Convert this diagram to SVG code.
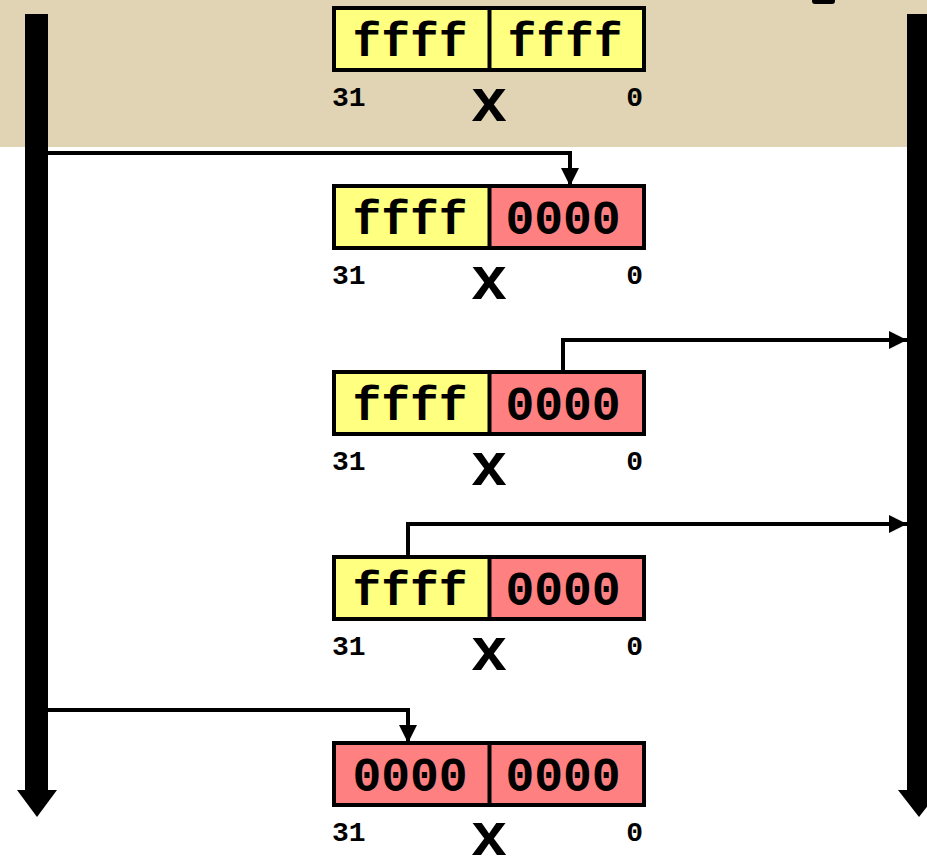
<svg xmlns="http://www.w3.org/2000/svg" width="927" height="856" viewBox="0 0 927 856">
  <style>
    .hi { fill: #ffff80; }
    .lo { fill: #ff8080; }
    .frame { fill: none; stroke: #000; stroke-width: 4; }
    .val { font-family: "Liberation Mono", "Courier New", monospace; font-weight: bold; font-size: 48px; text-anchor: middle; fill: #000; }
    .bit { font-family: "Liberation Mono", "Courier New", monospace; font-weight: bold; font-size: 28px; fill: #000; }
    .var { font-family: "Liberation Mono", "Courier New", monospace; font-weight: bold; font-size: 62px; text-anchor: middle; fill: #000; }
    .wire { fill: none; stroke: #000; stroke-width: 4; }
  </style>
  <defs>
    <marker id="tip" viewBox="0 0 10 10" refX="10" refY="5" markerWidth="4.5" markerHeight="4.5" markerUnits="strokeWidth" orient="auto">
      <path d="M0,0 L10,5 L0,10 Z" fill="#000"/>
    </marker>
  </defs>

  <rect width="927" height="856" fill="#ffffff"/>
  <rect x="0" y="0" width="927" height="147" fill="#e1d4b4"/>
  <path d="M812,0 L835,0 L835,1 Q835,4 832,4 L815,4 Q812,4 812,1 Z" fill="#000"/>

  <!-- time axes -->
  <g id="axis-left">
    <rect x="25" y="14" width="23" height="777" fill="#000"/>
    <polygon points="17,790 57,790 37,817" fill="#000"/>
  </g>
  <g id="axis-right">
    <rect x="907" y="14" width="24" height="777" fill="#000"/>
    <polygon points="898,790 940,790 919,817" fill="#000"/>
  </g>

  <!-- register states of x -->
  <g id="state-1">
    <rect class="hi" x="334" y="8" width="155.5" height="62"/>
    <rect class="hi" x="489.5" y="8" width="154.5" height="62"/>
    <rect class="frame" x="334" y="8" width="310" height="62"/>
    <line x1="489.5" y1="8" x2="489.5" y2="70" stroke="#000" stroke-width="4"/>
    <text class="val" x="410" y="56">ffff</text>
    <text class="val" x="565" y="56">ffff</text>
    <text class="bit" x="332" y="106">31</text>
    <text class="bit" x="643" y="106" text-anchor="end">0</text>
    <text class="var" x="489" y="121">x</text>
  </g>
  <g id="state-2">
    <rect class="hi" x="334" y="186" width="155.5" height="62"/>
    <rect class="lo" x="489.5" y="186" width="154.5" height="62"/>
    <rect class="frame" x="334" y="186" width="310" height="62"/>
    <line x1="489.5" y1="186" x2="489.5" y2="248" stroke="#000" stroke-width="4"/>
    <text class="val" x="410" y="234">ffff</text>
    <text class="val" x="563" y="234">0000</text>
    <text class="bit" x="332" y="284">31</text>
    <text class="bit" x="643" y="284" text-anchor="end">0</text>
    <text class="var" x="489" y="299">x</text>
  </g>
  <g id="state-3">
    <rect class="hi" x="334" y="372" width="155.5" height="62"/>
    <rect class="lo" x="489.5" y="372" width="154.5" height="62"/>
    <rect class="frame" x="334" y="372" width="310" height="62"/>
    <line x1="489.5" y1="372" x2="489.5" y2="434" stroke="#000" stroke-width="4"/>
    <text class="val" x="410" y="420">ffff</text>
    <text class="val" x="563" y="420">0000</text>
    <text class="bit" x="332" y="470">31</text>
    <text class="bit" x="643" y="470" text-anchor="end">0</text>
    <text class="var" x="489" y="485">x</text>
  </g>
  <g id="state-4">
    <rect class="hi" x="334" y="557" width="155.5" height="62"/>
    <rect class="lo" x="489.5" y="557" width="154.5" height="62"/>
    <rect class="frame" x="334" y="557" width="310" height="62"/>
    <line x1="489.5" y1="557" x2="489.5" y2="619" stroke="#000" stroke-width="4"/>
    <text class="val" x="410" y="605">ffff</text>
    <text class="val" x="563" y="605">0000</text>
    <text class="bit" x="332" y="655">31</text>
    <text class="bit" x="643" y="655" text-anchor="end">0</text>
    <text class="var" x="489" y="670">x</text>
  </g>
  <g id="state-5">
    <rect class="lo" x="334" y="743" width="155.5" height="62"/>
    <rect class="lo" x="489.5" y="743" width="154.5" height="62"/>
    <rect class="frame" x="334" y="743" width="310" height="62"/>
    <line x1="489.5" y1="743" x2="489.5" y2="805" stroke="#000" stroke-width="4"/>
    <text class="val" x="410" y="791">0000</text>
    <text class="val" x="563" y="791">0000</text>
    <text class="bit" x="332" y="841">31</text>
    <text class="bit" x="643" y="841" text-anchor="end">0</text>
    <text class="var" x="489" y="855">x</text>
  </g>

  <!-- writes from the left thread, reads by the right thread -->
  <g id="connectors">
    <path class="wire" d="M48,153 L570,153 L570,186" marker-end="url(#tip)"/>
    <path class="wire" d="M563,372 L563,340 L907,340" marker-end="url(#tip)"/>
    <path class="wire" d="M408,557 L408,524 L907,524" marker-end="url(#tip)"/>
    <path class="wire" d="M48,710 L408,710 L408,743" marker-end="url(#tip)"/>
  </g>
</svg>
